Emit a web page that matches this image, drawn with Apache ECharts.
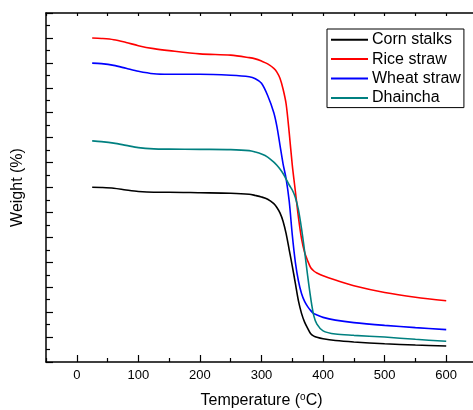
<!DOCTYPE html>
<html>
<head>
<meta charset="utf-8">
<script src="https://cdn.jsdelivr.net/npm/echarts@6/dist/echarts.min.js"></script>
<style>
html,body{margin:0;padding:0;background:#fff;}
#chart{width:473px;height:410px;}
</style>
</head>
<body>
<div id="chart"></div>
<script>
var temps = [25, 40, 60, 80, 100, 125, 150, 200, 250, 280, 290, 300, 310, 320, 325, 330, 335, 340, 345, 350, 355, 360, 365, 370, 375, 380, 385, 390, 400, 420, 450, 500, 550, 600];
var cornStalks = [70.1, 70.0, 69.7, 69.0, 68.4, 68.1, 68.1, 67.9, 67.7, 67.3, 66.8, 66.2, 65.3, 63.5, 62.0, 59.8, 56.5, 51.5, 45.0, 38.5, 31.5, 24.5, 19.5, 16.0, 13.5, 11.3, 10.4, 9.9, 9.3, 8.6, 8.0, 7.3, 6.8, 6.4];
var riceStraw = [130.0, 129.8, 129.3, 128.2, 126.9, 125.7, 124.9, 123.6, 123.1, 122.1, 121.6, 120.7, 119.6, 117.8, 116.3, 113.8, 109.5, 103.5, 92.0, 79.0, 68.5, 58.0, 49.5, 44.0, 40.6, 37.8, 36.5, 35.7, 34.6, 32.9, 30.6, 27.9, 26.0, 24.6];
var wheatStraw = [119.9, 119.7, 119.0, 117.8, 116.6, 115.6, 115.4, 115.4, 115.0, 114.4, 113.6, 111.8, 106.9, 100.0, 94.5, 87.0, 79.5, 73.5, 64.5, 51.0, 40.0, 32.5, 27.5, 24.3, 22.2, 20.6, 19.4, 18.9, 17.9, 16.8, 15.8, 14.7, 13.8, 13.0];
var dhaincha = [88.7, 88.4, 87.8, 86.9, 86.0, 85.5, 85.4, 85.3, 85.2, 84.8, 84.2, 83.4, 82.2, 80.2, 78.9, 77.4, 75.6, 73.4, 71.0, 69.0, 66.0, 61.0, 53.5, 44.5, 34.5, 25.5, 18.5, 15.2, 12.5, 11.2, 10.7, 10.0, 9.1, 8.3];
var seriesNames = ['Corn stalks', 'Rice straw', 'Wheat straw', 'Dhaincha'];
var seriesColors = ['#000000', '#ff0000', '#0000ff', '#008080'];
var xTickLabels = [0, 100, 200, 300, 400, 500, 600];

function pairs(vals) {
  return temps.map(function (t, i) { return [t, vals[i]]; });
}
var allVals = [cornStalks, riceStraw, wheatStraw, dhaincha];
var font = '"Liberation Sans", Arial, sans-serif';

var chart = echarts.init(document.getElementById('chart'), null, {renderer: 'canvas'});
var axisLine = {show: true, onZero: false, lineStyle: {color: '#000', width: 1.5}};
var option = {
  backgroundColor: '#fff',
  animation: false,
  textStyle: {fontFamily: font},
  grid: {left: 46, top: 13, bottom: 48, right: -4, containLabel: false, outerBoundsMode: 'none'},
  legend: {
    orient: 'vertical',
    left: 327,
    top: 29,
    padding: [1, 3, 0, 4],
    itemGap: 0,
    itemWidth: 37,
    itemHeight: 2,
    icon: 'rect',
    borderColor: '#000',
    borderWidth: 1,
    borderRadius: 0,
    backgroundColor: '#fff',
    textStyle: {fontSize: 16, color: '#000', fontFamily: font, lineHeight: 19.4, padding: [0, 0, 0, -1]},
    data: seriesNames
  },
  xAxis: [
    {
      type: 'value', position: 'bottom', min: -50, max: 650, interval: 100,
      axisLine: axisLine,
      axisTick: {show: true, inside: true, length: 4, lineStyle: {color: '#000', width: 1.2}},
      axisLabel: {show: false},
      splitLine: {show: false}
    },
    {
      type: 'value', position: 'bottom', min: -50, max: 650,
      axisLine: {show: false},
      axisTick: {show: true, inside: true, length: 7, customValues: xTickLabels, lineStyle: {color: '#000', width: 1.2}},
      axisLabel: {show: true, customValues: xTickLabels, fontSize: 13, color: '#000', margin: 7, fontFamily: font},
      splitLine: {show: false},
      name: '{a|Temperature (}{sup|o}{a|C)}',
      nameLocation: 'middle',
      nameGap: 30,
      nameTextStyle: {
        fontSize: 16, color: '#000', fontFamily: font,
        rich: {
          a: {fontSize: 16, color: '#000', fontFamily: font, lineHeight: 18},
          sup: {fontSize: 10, color: '#000', fontFamily: font, lineHeight: 18, verticalAlign: 'top', padding: [0, 0, 8, 0]}
        }
      }
    },
    {
      type: 'value', position: 'top', min: -50, max: 650, interval: 50,
      axisLine: axisLine,
      axisTick: {show: true, inside: true, length: 3, lineStyle: {color: '#000', width: 1.2}},
      axisLabel: {show: false},
      splitLine: {show: false}
    }
  ],
  yAxis: [
    {
      type: 'value', position: 'left', min: 0, max: 140, interval: 10,
      axisLine: axisLine,
      axisTick: {show: true, inside: true, length: 7, lineStyle: {color: '#000', width: 1.2}},
      minorTick: {show: true, splitNumber: 2, length: 4, lineStyle: {color: '#000', width: 1.2}},
      axisLabel: {show: false},
      splitLine: {show: false},
      name: 'Weight (%)',
      nameLocation: 'middle',
      nameGap: 20,
      nameTextStyle: {fontSize: 16, color: '#000', fontFamily: font}
    }
  ],
  series: seriesNames.map(function (n, i) {
    return {
      name: n,
      type: 'line',
      xAxisIndex: 0,
      yAxisIndex: 0,
      data: pairs(allVals[i]),
      showSymbol: false,
      symbol: 'none',
      smooth: 0.3,
      color: seriesColors[i],
      lineStyle: {color: seriesColors[i], width: 1.6}
    };
  })
};
chart.setOption(option);
</script>
</body>
</html>
